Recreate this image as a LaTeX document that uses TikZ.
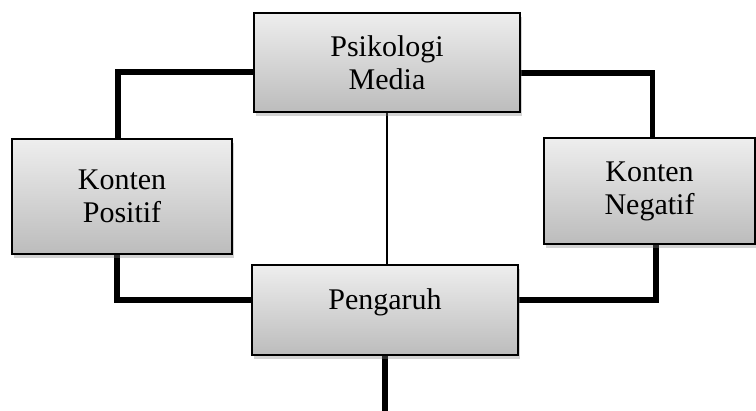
\documentclass[tikz,border=0pt]{standalone}
\usepackage{fontspec}
\setmainfont{Liberation Serif}
\usepackage{tikz}
\usetikzlibrary{shadows, backgrounds}
\definecolor{boxtop}{RGB}{238, 238, 238}
\definecolor{boxbottom}{RGB}{188, 188, 188}

\begin{document}
\begin{tikzpicture}[x=0.5pt, y=-0.5pt, align=center, font=\fontsize{15}{16.5}\selectfont]
  % Styles
  \tikzstyle{box} = [rectangle, draw=black, line width=1pt, top color=boxtop, bottom color=boxbottom, inner sep=0pt, drop shadow={shadow xshift=1.2pt, shadow yshift=-1.8pt, opacity=0.35}]
  \tikzstyle{conn} = [line width=2.6pt, line join=miter]
  \tikzstyle{thin} = [line width=0.9pt]

  \useasboundingbox (0,0) rectangle (756,411);

  % Boxes
  \node (psiko) [box, minimum width=133pt, minimum height=49.5pt] at (387,62.5) {Psikologi\\Media};
  \node (positif) [box, minimum width=110pt, minimum height=57.5pt] at (122,196.5) {Konten\\Positif};
  \node (negatif) [box, minimum width=105.5pt, minimum height=53pt] at (649.5,191) {Konten\\Negatif};
  \node (pengaruh) [box, minimum width=133pt, minimum height=45pt, text height=0.55em, text depth=0.55em] at (385,310) {Pengaruh};
  \coordinate (out) at (385,411);

  % Connections
  \begin{scope}[on background layer]
    \draw [conn] ([yshift=-4.75pt]psiko.west) -| ([xshift=-2pt]positif.north);
    \draw [conn] ([yshift=-5.25pt]psiko.east) -| ([xshift=1.5pt]negatif.north);
    \draw [conn] ([xshift=-2.5pt]positif.south) |- ([yshift=5pt]pengaruh.west);
    \draw [conn] ([xshift=3.25pt]negatif.south) |- ([yshift=5pt]pengaruh.east);
    \draw [thin] (psiko.south) -- (psiko.south |- pengaruh.north);
    \draw [conn] (pengaruh.south) -- (out);
  \end{scope}
\end{tikzpicture}
\end{document}
